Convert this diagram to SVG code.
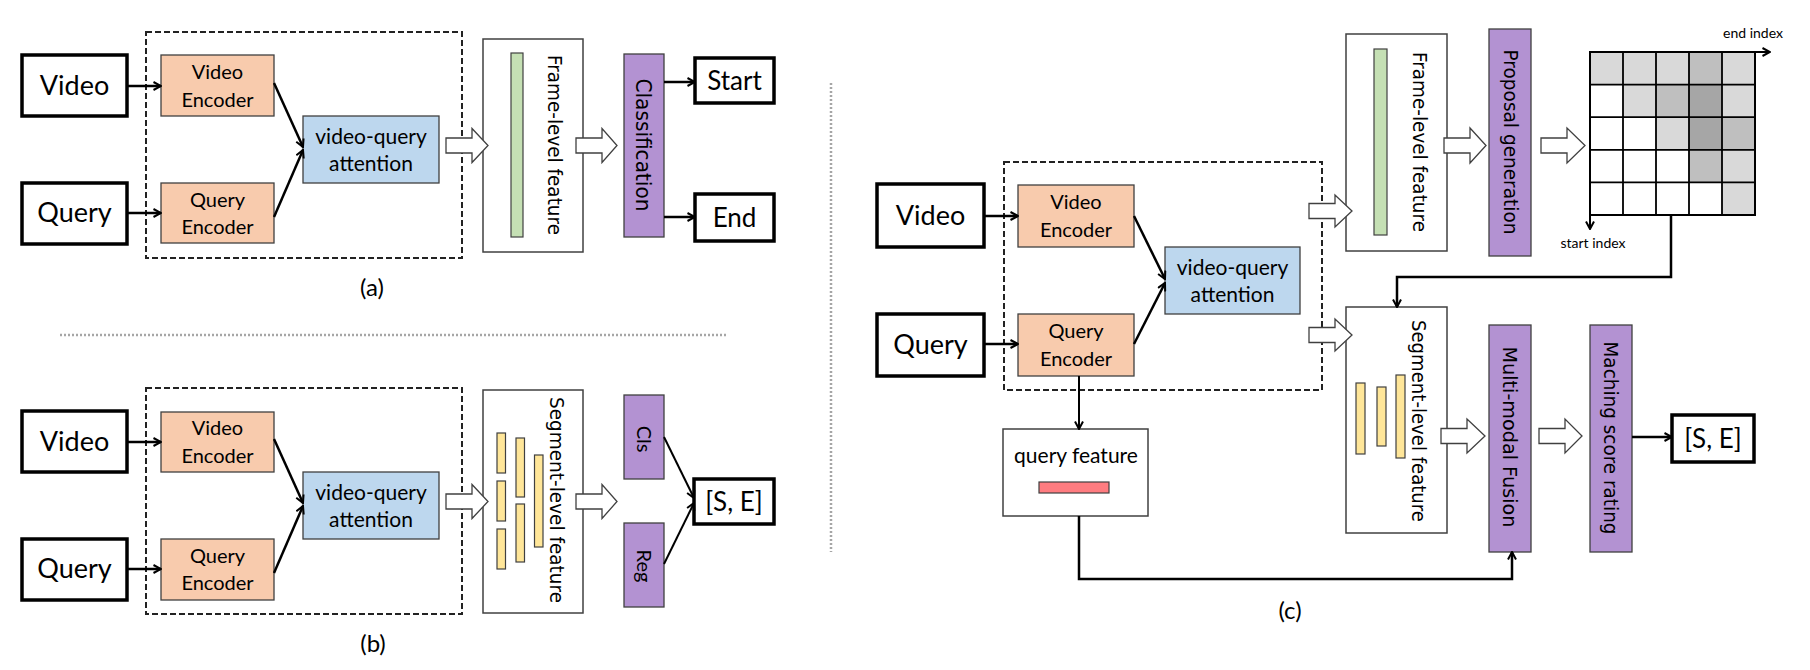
<svg xmlns="http://www.w3.org/2000/svg" width="1810" height="670" viewBox="0 0 1810 670">
<defs>
<marker id="ah" viewBox="0 0 10 10" refX="9" refY="5" markerWidth="10" markerHeight="10" markerUnits="userSpaceOnUse" orient="auto"><path d="M1.5,1 L9,5 L1.5,9" fill="none" stroke="#000" stroke-width="2"/></marker>
<style>
.io{fill:#fff;stroke:#000;stroke-width:3.5}
.enc{fill:#f8cbad;stroke:#404040;stroke-width:1.3}
.att{fill:#bdd7ee;stroke:#404040;stroke-width:1.3}
.feat{fill:#fff;stroke:#404040;stroke-width:1.5}
.bar{fill:#b392d2;stroke:#404040;stroke-width:1.3}
.grn{fill:#c5e0b4;stroke:#404040;stroke-width:1.2}
.yel{fill:#ffe699;stroke:#404040;stroke-width:1.2}
.red{fill:#ff7c80;stroke:#404040;stroke-width:1.2}
.dash{fill:none;stroke:#222;stroke-width:2;stroke-dasharray:6 3}
.sep{fill:none;stroke:#a6a6a6;stroke-width:2.5;stroke-dasharray:2 2}
.hol{fill:#fff;stroke:#404040;stroke-width:1.3}
.ln{fill:none;stroke:#000;stroke-width:2.5;marker-end:url(#ah)}
.ln2{fill:none;stroke:#000;stroke-width:2;marker-end:url(#ah)}
.t{font-family:Lato,"Liberation Sans",sans-serif;fill:#000;text-anchor:middle}
.r{font-family:"DejaVu Sans","Liberation Sans",sans-serif;fill:#000;text-anchor:middle;font-size:20px}
.L{fill:#d9d9d9}.M{fill:#bfbfbf}.D{fill:#a6a6a6}.W{fill:#fff}
</style>
</defs>
<rect width="1810" height="670" fill="#fff"/>

<!-- separators -->
<line class="sep" x1="60" y1="335" x2="726" y2="335"/>
<line class="sep" x1="831" y1="83" x2="831" y2="552"/>

<!-- ================= (a) ================= -->
<g id="a-encoder-block"><rect class="dash" x="146" y="32" width="316" height="226"/></g>
<g id="a-video"><rect class="io" x="22" y="55" width="105" height="61"/><text class="t" x="74.5" y="95" font-size="27">Video</text></g>
<g id="a-query"><rect class="io" x="22" y="183" width="105" height="61"/><text class="t" x="74.5" y="222" font-size="27">Query</text></g>
<g id="a-video-encoder"><rect class="enc" x="161" y="55" width="113" height="61"/><text class="t" x="217.5" y="79" font-size="20">Video</text><text class="t" x="217.5" y="107" font-size="20">Encoder</text></g>
<g id="a-query-encoder"><rect class="enc" x="161" y="183" width="113" height="60"/><text class="t" x="217.5" y="207" font-size="20">Query</text><text class="t" x="217.5" y="234" font-size="20">Encoder</text></g>
<g id="a-attention"><rect class="att" x="303" y="116" width="136" height="67"/><text class="t" x="371" y="144" font-size="21">video-query</text><text class="t" x="371" y="171" font-size="21">attention</text></g>
<g id="a-frame-feature"><rect class="feat" x="483" y="39" width="100" height="213"/><rect class="grn" x="511" y="53" width="12" height="184"/><text class="r" transform="translate(548,145) rotate(90)" textLength="180" lengthAdjust="spacingAndGlyphs">Frame-level feature</text></g>
<g id="a-classification"><rect class="bar" x="624" y="54" width="40" height="183"/><text class="r" transform="translate(636,145) rotate(90)" textLength="133" lengthAdjust="spacingAndGlyphs" style="font-size:22px">Classification</text></g>
<g id="a-start"><rect class="io" x="695" y="58" width="79" height="45"/><text class="t" x="734.5" y="90" font-size="26">Start</text></g>
<g id="a-end"><rect class="io" x="695" y="194" width="79" height="47"/><text class="t" x="734.5" y="227" font-size="26">End</text></g>
<text class="t" x="372" y="296" font-size="24">(a)</text>

<!-- ================= (b) ================= -->
<g id="b-encoder-block"><rect class="dash" x="146" y="388" width="316" height="226"/></g>
<g id="b-video"><rect class="io" x="22" y="411" width="105" height="61"/><text class="t" x="74.5" y="451" font-size="27">Video</text></g>
<g id="b-query"><rect class="io" x="22" y="539" width="105" height="61"/><text class="t" x="74.5" y="578" font-size="27">Query</text></g>
<g id="b-video-encoder"><rect class="enc" x="161" y="412" width="113" height="60"/><text class="t" x="217.5" y="435" font-size="20">Video</text><text class="t" x="217.5" y="463" font-size="20">Encoder</text></g>
<g id="b-query-encoder"><rect class="enc" x="161" y="539" width="113" height="61"/><text class="t" x="217.5" y="563" font-size="20">Query</text><text class="t" x="217.5" y="590" font-size="20">Encoder</text></g>
<g id="b-attention"><rect class="att" x="303" y="472" width="136" height="67"/><text class="t" x="371" y="500" font-size="21">video-query</text><text class="t" x="371" y="527" font-size="21">attention</text></g>
<g id="b-segment-feature"><rect class="feat" x="483" y="390" width="100" height="223"/>
<rect class="yel" x="497" y="433" width="8.5" height="40"/><rect class="yel" x="497" y="481" width="8.5" height="40"/><rect class="yel" x="497" y="529" width="8.5" height="40"/>
<rect class="yel" x="516" y="438" width="8.5" height="59"/><rect class="yel" x="516" y="504" width="8.5" height="58"/>
<rect class="yel" x="534.5" y="455" width="8.5" height="92"/>
<text class="r" transform="translate(550,500) rotate(90)" textLength="206" lengthAdjust="spacingAndGlyphs">Segment-level feature</text></g>
<g id="b-cls"><rect class="bar" x="624" y="395" width="40" height="84"/><text class="t" font-size="20" transform="translate(637,439) rotate(90)">Cls</text></g>
<g id="b-reg"><rect class="bar" x="624" y="523" width="40" height="84"/><text class="t" font-size="20" transform="translate(637,566) rotate(90)">Reg</text></g>
<g id="b-se"><rect class="io" x="694" y="479" width="80" height="45"/><text class="t" x="734" y="511" font-size="26">[S, E]</text></g>
<text class="t" x="373" y="652" font-size="24">(b)</text>

<!-- ================= (c) ================= -->
<g id="c-encoder-block"><rect class="dash" x="1004" y="162" width="318" height="228"/></g>
<g id="c-video"><rect class="io" x="877" y="184" width="107" height="63"/><text class="t" x="930.5" y="225" font-size="27">Video</text></g>
<g id="c-query"><rect class="io" x="877" y="314" width="107" height="62"/><text class="t" x="930.5" y="354" font-size="27">Query</text></g>
<g id="c-video-encoder"><rect class="enc" x="1018" y="185" width="116" height="62"/><text class="t" x="1076" y="209" font-size="20">Video</text><text class="t" x="1076" y="237" font-size="20">Encoder</text></g>
<g id="c-query-encoder"><rect class="enc" x="1018" y="314" width="116" height="62"/><text class="t" x="1076" y="338" font-size="20">Query</text><text class="t" x="1076" y="366" font-size="20">Encoder</text></g>
<g id="c-attention"><rect class="att" x="1165" y="247" width="135" height="67"/><text class="t" x="1232.5" y="275" font-size="21">video-query</text><text class="t" x="1232.5" y="302" font-size="21">attention</text></g>
<g id="c-frame-feature"><rect class="feat" x="1346" y="34" width="101" height="217"/><rect class="grn" x="1374" y="49" width="13" height="186"/><text class="r" transform="translate(1413,142) rotate(90)" textLength="180" lengthAdjust="spacingAndGlyphs">Frame-level feature</text></g>
<g id="c-proposal"><rect class="bar" x="1489" y="29" width="42" height="227"/><text class="r" transform="translate(1504,142) rotate(90)" textLength="185" lengthAdjust="spacingAndGlyphs">Proposal generation</text></g>
<g id="c-score-map">
<rect class="L" x="1590" y="52" width="33" height="32.6"/><rect class="L" x="1623" y="52" width="33" height="32.6"/><rect class="L" x="1656" y="52" width="33" height="32.6"/><rect class="M" x="1689" y="52" width="33" height="32.6"/><rect class="L" x="1722" y="52" width="33" height="32.6"/>
<rect class="W" x="1590" y="84.6" width="33" height="32.6"/><rect class="L" x="1623" y="84.6" width="33" height="32.6"/><rect class="M" x="1656" y="84.6" width="33" height="32.6"/><rect class="D" x="1689" y="84.6" width="33" height="32.6"/><rect class="L" x="1722" y="84.6" width="33" height="32.6"/>
<rect class="W" x="1590" y="117.2" width="33" height="32.6"/><rect class="W" x="1623" y="117.2" width="33" height="32.6"/><rect class="L" x="1656" y="117.2" width="33" height="32.6"/><rect class="D" x="1689" y="117.2" width="33" height="32.6"/><rect class="M" x="1722" y="117.2" width="33" height="32.6"/>
<rect class="W" x="1590" y="149.8" width="33" height="32.6"/><rect class="W" x="1623" y="149.8" width="33" height="32.6"/><rect class="W" x="1656" y="149.8" width="33" height="32.6"/><rect class="M" x="1689" y="149.8" width="33" height="32.6"/><rect class="L" x="1722" y="149.8" width="33" height="32.6"/>
<rect class="W" x="1590" y="182.4" width="33" height="32.6"/><rect class="W" x="1623" y="182.4" width="33" height="32.6"/><rect class="W" x="1656" y="182.4" width="33" height="32.6"/><rect class="W" x="1689" y="182.4" width="33" height="32.6"/><rect class="L" x="1722" y="182.4" width="33" height="32.6"/>
<path d="M1623,52V215M1656,52V215M1689,52V215M1722,52V215M1590,84.6H1755M1590,117.2H1755M1590,149.8H1755M1590,182.4H1755" fill="none" stroke="#000" stroke-width="1.8"/>
<rect x="1590" y="52" width="165" height="163" fill="none" stroke="#000" stroke-width="2"/>
<line class="ln2" x1="1755" y1="52" x2="1770" y2="52"/>
<line class="ln2" x1="1590" y1="215" x2="1590" y2="229"/>
<text class="t" x="1753" y="38" font-size="14">end index</text>
<text class="t" x="1593" y="248" font-size="14">start index</text>
</g>
<g id="c-segment-feature"><rect class="feat" x="1346" y="307" width="101" height="226"/>
<rect class="yel" x="1356" y="383" width="9" height="71"/><rect class="yel" x="1377" y="387" width="9" height="59"/><rect class="yel" x="1396" y="375" width="9" height="83"/>
<text class="r" transform="translate(1412,421) rotate(90)" textLength="202" lengthAdjust="spacingAndGlyphs">Segment-level feature</text></g>
<g id="c-query-feature"><rect class="feat" x="1003" y="429" width="145" height="87"/><text class="t" x="1076" y="463" font-size="21">query feature</text><rect class="red" x="1039" y="482" width="70" height="11"/></g>
<g id="c-fusion"><rect class="bar" x="1489" y="325" width="42" height="227"/><text class="r" transform="translate(1503,437) rotate(90)" textLength="181" lengthAdjust="spacingAndGlyphs">Multi-modal Fusion</text></g>
<g id="c-rating"><rect class="bar" x="1590" y="325" width="42" height="227"/><text class="r" transform="translate(1604,438) rotate(90)" textLength="193" lengthAdjust="spacingAndGlyphs">Maching score rating</text></g>
<g id="c-se"><rect class="io" x="1672" y="415" width="82" height="47"/><text class="t" x="1713" y="448" font-size="26">[S, E]</text></g>
<text class="t" x="1290" y="619" font-size="24">(c)</text>

<!-- ================= connectors ================= -->
<g id="connectors">
<line class="ln" x1="127" y1="86" x2="161" y2="86"/>
<line class="ln" x1="127" y1="213" x2="161" y2="213"/>
<line class="ln" x1="274" y1="83" x2="303" y2="147"/>
<line class="ln" x1="274" y1="217" x2="303" y2="150"/>
<polygon class="hol" points="446,138 472,138 472,128.5 488,145.5 472,162.5 472,153 446,153"/>
<polygon class="hol" points="576,138 602,138 602,128.5 617,145.5 602,162.5 602,153 576,153"/>
<line class="ln" x1="664" y1="82" x2="695" y2="82"/>
<line class="ln" x1="664" y1="217" x2="695" y2="217"/>

<line class="ln" x1="127" y1="442" x2="161" y2="442"/>
<line class="ln" x1="127" y1="569" x2="161" y2="569"/>
<line class="ln" x1="274" y1="439" x2="303" y2="503"/>
<line class="ln" x1="274" y1="573" x2="303" y2="506"/>
<polygon class="hol" points="446,494 472,494 472,484.5 488,501.5 472,518.5 472,509 446,509"/>
<polygon class="hol" points="576,494 602,494 602,484.5 617,501.5 602,518.5 602,509 576,509"/>
<line class="ln2" x1="664" y1="437" x2="694" y2="498"/>
<line class="ln2" x1="664" y1="564" x2="694" y2="503"/>

<line class="ln" x1="984" y1="216" x2="1018" y2="216"/>
<line class="ln" x1="984" y1="344" x2="1018" y2="344"/>
<line class="ln" x1="1134" y1="216" x2="1165" y2="279"/>
<line class="ln" x1="1134" y1="344" x2="1165" y2="283"/>
<polygon class="hol" points="1309,203.5 1335,203.5 1335,195 1352,211 1335,227 1335,218.5 1309,218.5"/>
<polygon class="hol" points="1309,327.5 1335,327.5 1335,319 1352,335 1335,351 1335,342.5 1309,342.5"/>
<polygon class="hol" points="1444,138 1470,138 1470,128 1486,145.5 1470,163 1470,153 1444,153"/>
<polygon class="hol" points="1541,138 1567,138 1567,128 1585,145.5 1567,163 1567,153 1541,153"/>
<polygon class="hol" points="1441,428.5 1467,428.5 1467,419 1485,436 1467,453 1467,443.5 1441,443.5"/>
<polygon class="hol" points="1539,428.5 1565,428.5 1565,419 1582,436 1565,453 1565,443.5 1539,443.5"/>
<polyline class="ln" points="1671,215 1671,277 1397,277 1397,307"/>
<line class="ln2" x1="1079" y1="376" x2="1079" y2="429"/>
<polyline class="ln" points="1079,516 1079,579 1512,579 1512,552"/>
<line class="ln" x1="1632" y1="437" x2="1672" y2="437"/>
</g>
</svg>
